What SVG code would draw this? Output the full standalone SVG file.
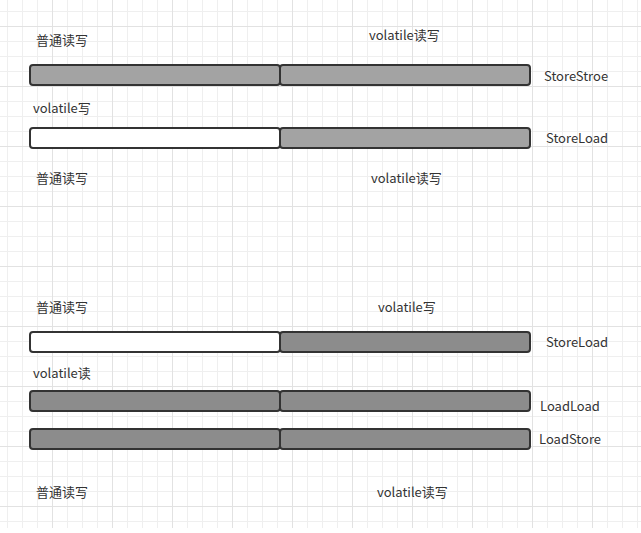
<svg xmlns="http://www.w3.org/2000/svg" width="641" height="533" viewBox="0 0 641 533">
<style>
.bar{stroke:#333;stroke-width:2}
.g1{fill:#a3a3a3}
.g2{fill:#8c8c8c}
.w{fill:#ffffff}
text{font-family:"Noto Sans CJK SC","Microsoft YaHei",sans-serif;font-size:13px;fill:#333;dominant-baseline:central}
</style>
<defs>
<pattern id="minor" x="7" y="11" width="15" height="15" patternUnits="userSpaceOnUse">
<rect x="0" y="0" width="1" height="15" fill="#efefef"/>
<rect x="0" y="0" width="15" height="1" fill="#efefef"/>
</pattern>
<pattern id="major" x="52" y="26" width="60" height="60" patternUnits="userSpaceOnUse">
<rect x="0" y="0" width="1" height="60" fill="#e2e2e2"/>
<rect x="0" y="0" width="60" height="1" fill="#e2e2e2"/>
</pattern>
</defs>
<rect width="641" height="533" fill="#fff"/>
<g id="grid">
<rect x="0" y="0" width="641" height="528" fill="url(#minor)"/>
<rect x="0" y="0" width="641" height="528" fill="url(#major)"/>
</g>
<g id="section1">
<g id="row1"><rect class="bar g1" x="30" y="65" width="250" height="20" rx="3"/><rect class="bar g1" x="280" y="65" width="250" height="20" rx="3"/></g>
<g id="row2"><rect class="bar w" x="30" y="128" width="250" height="20" rx="3"/><rect class="bar g1" x="280" y="128" width="250" height="20" rx="3"/></g>
<text x="36" y="39">普通读写</text>
<text x="369" y="34">volatile读写</text>
<text x="544" y="75">StoreStroe</text>
<text x="33" y="107">volatile写</text>
<text x="546" y="137">StoreLoad</text>
<text x="36" y="177">普通读写</text>
<text x="371" y="177">volatile读写</text>
</g>
<g id="section2">
<g id="row3"><rect class="bar w" x="30" y="332" width="250" height="20" rx="3"/><rect class="bar g2" x="280" y="332" width="250" height="20" rx="3"/></g>
<g id="row4"><rect class="bar g2" x="30" y="391" width="250" height="20" rx="3"/><rect class="bar g2" x="280" y="391" width="250" height="20" rx="3"/></g>
<g id="row5"><rect class="bar g2" x="30" y="429" width="250" height="20" rx="3"/><rect class="bar g2" x="280" y="429" width="250" height="20" rx="3"/></g>
<text x="36" y="306">普通读写</text>
<text x="378" y="306">volatile写</text>
<text x="546" y="341">StoreLoad</text>
<text x="33" y="372">volatile读</text>
<text x="540" y="405">LoadLoad</text>
<text x="539" y="438">LoadStore</text>
<text x="36" y="491">普通读写</text>
<text x="377" y="491">volatile读写</text>
</g>
</svg>
